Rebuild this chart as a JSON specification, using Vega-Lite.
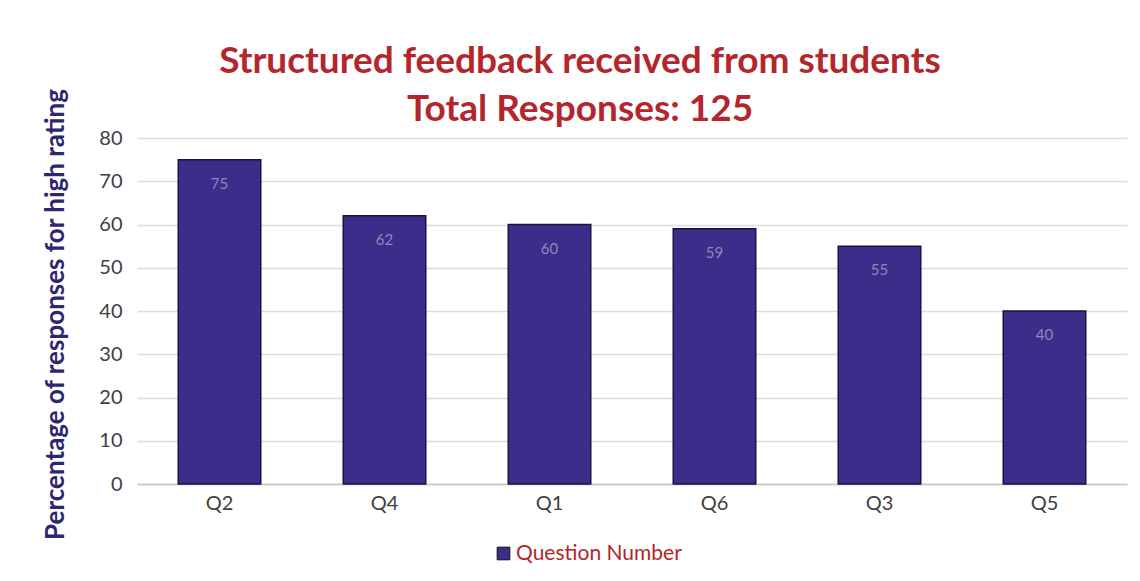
{
  "$schema": "https://vega.github.io/schema/vega-lite/v6.json",
  "width": 990,
  "height": 346,
  "autosize": {"type": "none"},
  "padding": {"left": 137, "top": 138, "right": 13, "bottom": 97},
  "background": "white",
  "title": {
    "text": ["Structured feedback received from students", "Total Responses: 125"],
    "font": "Lato",
    "fontSize": 37,
    "fontWeight": "bold",
    "color": "#b3262b",
    "anchor": "middle",
    "dx": -52,
    "dy": 27,
    "offset": -14,
    "lineHeight": 48
  },
  "config": {
    "view": {"stroke": null},
    "font": "Lato"
  },
  "data": {
    "values": [
      {"q": "Q2", "v": 75, "s": "Question Number"},
      {"q": "Q4", "v": 62, "s": "Question Number"},
      {"q": "Q1", "v": 60, "s": "Question Number"},
      {"q": "Q6", "v": 59, "s": "Question Number"},
      {"q": "Q3", "v": 55, "s": "Question Number"},
      {"q": "Q5", "v": 40, "s": "Question Number"}
    ]
  },
  "encoding": {
    "x": {
      "field": "q", "type": "nominal", "sort": null,
      "scale": {"paddingInner": 0.5, "paddingOuter": 0.25},
      "axis": {
        "title": null, "labelAngle": 0, "ticks": false,
        "labelFont": "Lato", "labelFontSize": 20, "labelColor": "#404040",
        "labelPadding": 9, "domainColor": "#c8c8c8", "domainWidth": 1.5
      }
    },
    "y": {
      "field": "v", "type": "quantitative",
      "scale": {"domain": [0, 80]},
      "axis": {
        "values": [0, 10, 20, 30, 40, 50, 60, 70, 80],
        "title": "Percentage of responses for high rating",
        "titleFont": "Lato", "titleFontSize": 26, "titleFontWeight": "bold",
        "titleColor": "#2b2770",
        "titleX": -82, "titleY": 176, "titleAngle": -90,
        "titleAlign": "center", "titleBaseline": "middle",
        "labelFont": "Lato", "labelFontSize": 20, "labelColor": "#404040",
        "labelPadding": 15, "ticks": false, "domain": false,
        "gridColor": "#dcdcdc", "gridWidth": 1.5
      }
    }
  },
  "layer": [
    {
      "mark": {"type": "bar", "stroke": "#1a1440", "strokeWidth": 1.5},
      "encoding": {
        "color": {
          "field": "s", "type": "nominal",
          "scale": {"range": ["#3b2d8a"]},
          "legend": {
            "title": null, "orient": "none",
            "legendX": 356, "legendY": 405,
            "symbolType": "square", "symbolSize": 160,
            "symbolStrokeColor": "#111", "symbolStrokeWidth": 1,
            "labelColor": "#b3262b", "labelFont": "Lato", "labelFontSize": 21,
            "labelOffset": 2, "labelLimit": 400
          }
        }
      }
    },
    {
      "mark": {"type": "text", "dy": 24, "color": "#8f88bb", "fontSize": 15, "font": "Lato"},
      "encoding": {"text": {"field": "v", "type": "quantitative"}}
    }
  ]
}
